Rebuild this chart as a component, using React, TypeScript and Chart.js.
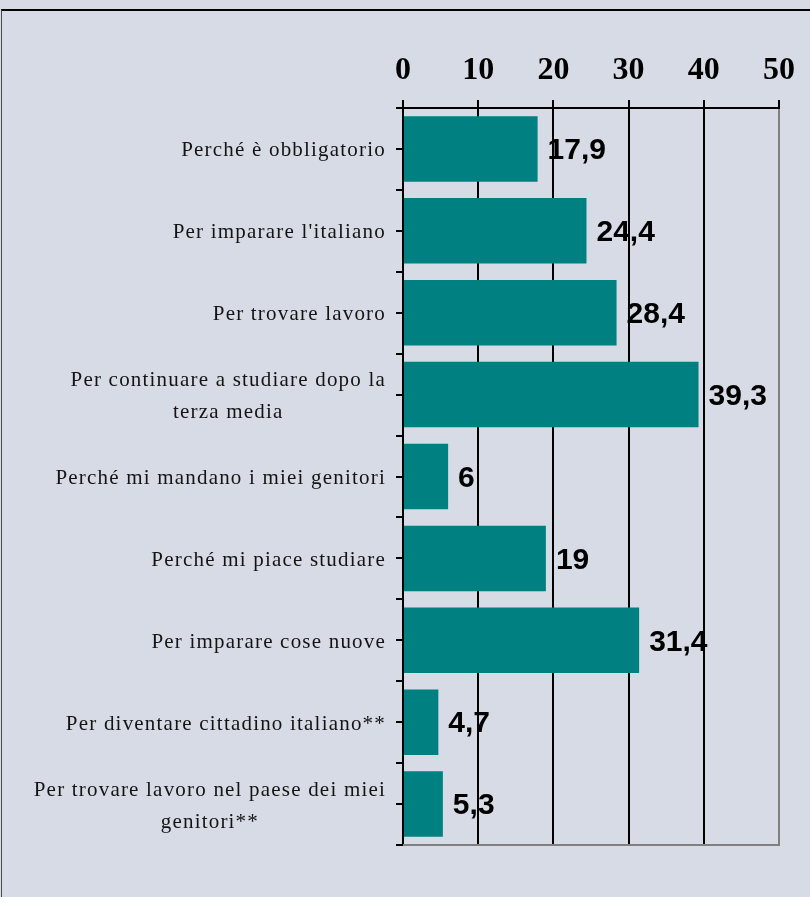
import React, { useEffect, useRef } from "react";
import { Chart, registerables } from "chart.js";

Chart.register(...registerables);

const categories: (string | string[])[] = [
  "Perché è obbligatorio",
  "Per imparare l'italiano",
  "Per trovare lavoro",
  ["Per continuare a studiare dopo la", "terza media"],
  "Perché mi mandano i miei genitori",
  "Perché mi piace studiare",
  "Per imparare cose nuove",
  "Per diventare cittadino italiano**",
  ["Per trovare lavoro nel paese dei miei", "genitori**"],
];

const values: number[] = [17.9, 24.4, 28.4, 39.3, 6, 19, 31.4, 4.7, 5.3];

const xMin = 0;
const xMax = 50;
const xStep = 10;

const BG = "#d7dbe5";
const BAR = "#008080";
const SERIF = "'Liberation Serif', 'Times New Roman', serif";
const SANS = "'Liberation Sans', Arial, sans-serif";

export default function App() {
  const ref = useRef<HTMLCanvasElement>(null);

  useEffect(() => {
    const canvas = ref.current;
    if (!canvas) return;

    const decorPlugin = {
      id: "decor",
      afterDraw(chart: any) {
        const ctx = chart.ctx as CanvasRenderingContext2D;
        const yScale = chart.scales.y;
        const area = chart.chartArea;
        ctx.save();
        // bottom gray border of plot
        ctx.strokeStyle = "#808080";
        ctx.lineWidth = 2;
        ctx.beginPath();
        ctx.moveTo(area.left, area.bottom);
        ctx.lineTo(area.right + 1, area.bottom);
        ctx.stroke();

        // left tick marks at category boundaries and centres
        ctx.strokeStyle = "#000";
        ctx.lineWidth = 2;
        const n = categories.length;
        for (let k = 0; k <= 2 * n; k++) {
          const v = k / 2 - 0.5;
          const py = Math.round(yScale.getPixelForValue(v));
          ctx.beginPath();
          ctx.moveTo(area.left - 7, py);
          ctx.lineTo(area.left, py);
          ctx.stroke();
        }

        // category labels: block right-aligned, lines centred within block
        ctx.font = `21px ${SERIF}`;
        (ctx as any).letterSpacing = "1.2px";
        ctx.fillStyle = "#141414";
        ctx.textBaseline = "middle";
        ctx.textAlign = "center";
        const lineH = 32;
        const rightEdge = area.left - 17;
        categories.forEach((lab, i) => {
          const lines = Array.isArray(lab) ? lab : [lab];
          const widths = lines.map((l) => ctx.measureText(l).width);
          const w = Math.max(...widths);
          const cx = rightEdge - w / 2;
          const cy = yScale.getPixelForValue(i);
          const y0 = cy - ((lines.length - 1) * lineH) / 2 + 2;
          lines.forEach((l, j) => {
            ctx.fillText(l, cx, y0 + j * lineH);
          });
        });

        // value labels
        (ctx as any).letterSpacing = "0px";
        ctx.font = `bold 30px ${SANS}`;
        ctx.fillStyle = "#000";
        ctx.textAlign = "left";
        ctx.textBaseline = "middle";
        const meta = chart.getDatasetMeta(0);
        meta.data.forEach((bar: any, i: number) => {
          const txt = String(values[i]).replace(".", ",");
          ctx.fillText(txt, bar.x + 10, bar.y + 2);
        });
        ctx.restore();
      },
    };

    const chart = new Chart(canvas, {
      type: "bar",
      data: {
        labels: categories as any,
        datasets: [
          {
            data: values,
            backgroundColor: BAR,
            borderWidth: 0,
            barPercentage: 0.8,
            categoryPercentage: 1.0,
          },
        ],
      },
      options: {
        indexAxis: "y",
        responsive: false,
        animation: false,
        devicePixelRatio: 1,
        layout: { padding: { left: 0, top: 0, right: 31, bottom: 52 } },
        plugins: {
          legend: { display: false },
          tooltip: { enabled: false },
        },
        scales: {
          x: {
            position: "top",
            min: xMin,
            max: xMax,
            ticks: {
              stepSize: xStep,
              color: "#000",
              padding: 10,
              font: { family: SERIF, size: 32, weight: "bold" },
            },
            grid: {
              color: (c: any) => (c.tick && c.tick.value === xMax ? "#808080" : "#000"),
              lineWidth: 2,
              drawTicks: true,
              tickLength: 8,
              tickColor: "#000",
            },
            border: { display: true, color: "#000", width: 2 },
            afterFit: (s: any) => {
              s.height = 108;
            },
          },
          y: {
            type: "category",
            ticks: { display: false },
            grid: { display: false },
            border: { display: true, color: "#000", width: 2 },
            afterFit: (s: any) => {
              s.width = 403;
            },
          },
        },
      },
      plugins: [decorPlugin],
    } as any);

    return () => {
      chart.destroy();
    };
  }, []);

  return (
    <div
      style={{
        position: "absolute",
        left: 0,
        top: 0,
        width: 810,
        height: 897,
        background: BG,
        overflow: "hidden",
      }}
    >
      <div
        style={{
          position: "absolute",
          left: 1,
          top: 9,
          width: 809,
          height: 888,
          borderTop: "2px solid #000",
          borderLeft: "1px solid #4a4a4a",
          boxSizing: "border-box",
        }}
      />
      <canvas
        ref={ref}
        width={810}
        height={897}
        style={{ position: "absolute", left: 0, top: 0, width: 810, height: 897 }}
      />
    </div>
  );
}
